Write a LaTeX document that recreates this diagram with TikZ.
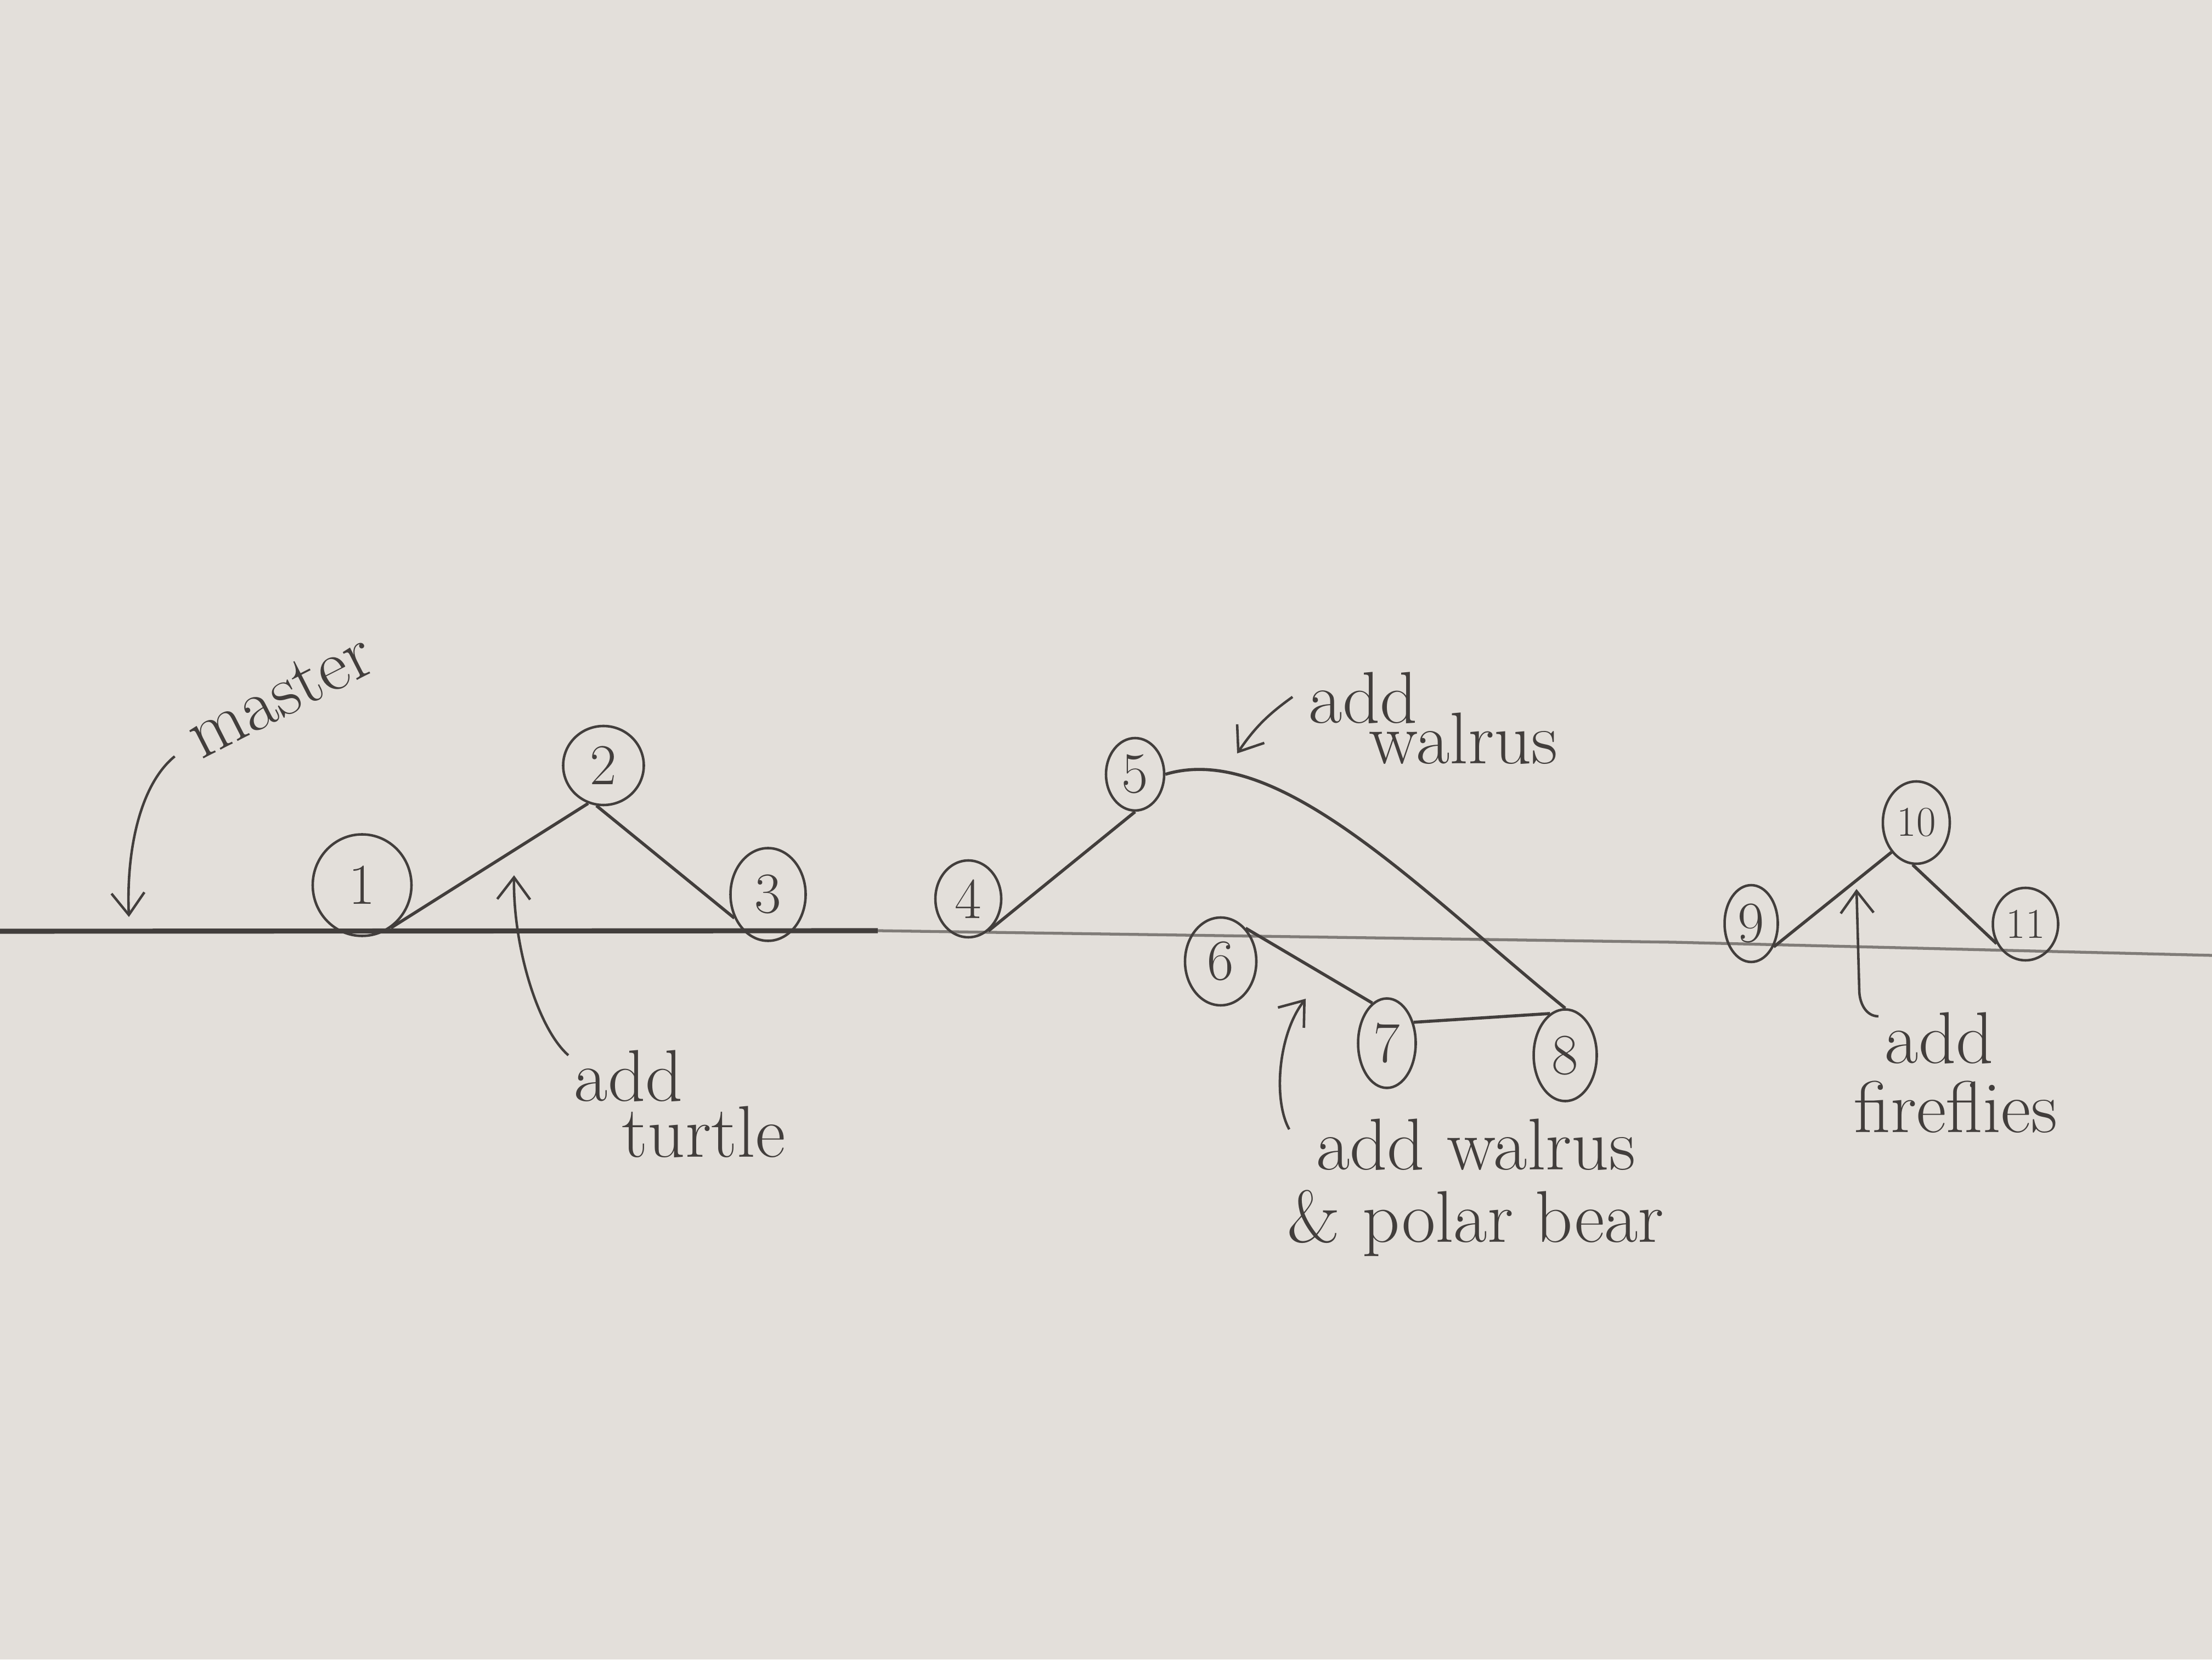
\documentclass[tikz,border=0pt]{standalone}
\usepackage{fontspec}
\usetikzlibrary{arrows.meta,
                  calc,
                  shapes.geometric,
                  positioning}
\definecolor{pencil}{RGB}{66,62,60}
\definecolor{faint}{RGB}{128,124,120}
\definecolor{paper}{RGB}{227,223,218}
\newcommand{\tightlines}{\lineskiplimit=-50pt\relax}

\begin{document}
\begin{tikzpicture}[auto, every node/.style={text=pencil}]
    \tikzset{
    commit/.style={draw=pencil, shape=ellipse, line width=1.3pt, inner sep=0pt, minimum width=1.2cm, minimum height=1.5cm, font=\fontsize{30}{30}\selectfont},
    bigcommit/.style={commit, font=\fontsize{22}{22}\selectfont},
    note/.style={inner sep=0pt, font=\fontsize{38}{40}\selectfont},
    line/.style={draw=pencil, line width=1.6pt},
    pointer/.style={draw=pencil, line width=1.3pt, -{Straight Barb[length=4mm,width=6mm]}},
    trunk/.style={draw=pencil, line width=2.6pt},
    trunkfaint/.style={draw=faint, line width=1.5pt}
}
\useasboundingbox (0,0) rectangle (40.32,30.24);
\fill [paper] (0,0) rectangle (40.32,30.24);

% master line
\path [trunk] (0,13.27) -- (16.0,13.28);
\path [trunkfaint] (16.0,13.28) -- (30.5,13.07) -- (40.32,12.83);

\node [commit, minimum width=1.8cm, minimum height=1.85cm] (c1) at (6.60,14.11) {1};
\node [commit, minimum width=1.47cm, minimum height=1.44cm] (c2) at (11.00,16.29) {2};
\node [commit, minimum width=1.37cm, minimum height=1.69cm] (c3) at (14.00,13.94) {3};
\node [commit, minimum width=1.2cm, minimum height=1.4cm] (c4) at (17.65,13.86) {4};
\node [commit, minimum width=1.06cm, minimum height=1.32cm] (c5) at (20.69,16.13) {5};
\node [commit, minimum width=1.3cm, minimum height=1.6cm] (c6) at (22.25,12.72) {6};
\node [commit, minimum width=1.05cm, minimum height=1.63cm] (c7) at (25.28,11.23) {7};
\node [commit, minimum width=1.15cm, minimum height=1.67cm] (c8) at (28.53,11.01) {8};
\node [commit, minimum width=0.97cm, minimum height=1.4cm] (c9) at (31.92,13.41) {9};
\node [bigcommit, minimum width=1.22cm, minimum height=1.5cm] (c10) at (34.93,15.25) {10};
\node [bigcommit, minimum width=1.19cm, minimum height=1.32cm] (c11) at (36.92,13.40) {11};

\node [note, rotate=27] (master) at (5.10,17.58) {master};
\node [note, align=left, anchor=north west, font=\fontsize{38}{29}\selectfont] (addturtle) at (10.46,11.11) {add\\\hspace{0.87cm}turtle};
\node [note, align=left, anchor=north west, font={\fontsize{38}{21}\selectfont\tightlines}] (addwalrus) at (23.85,18.0) {add\\\hspace{1.1cm}walrus};
\node [note, align=center, anchor=north, font=\fontsize{38}{37.5}\selectfont] (addpolar) at (26.9,9.86) {add walrus\\\& polar bear};
\node [note, align=left, anchor=north west, font=\fontsize{38}{36}\selectfont] (addfireflies) at (33.79,11.80) {\hspace{0.56cm}add\\fireflies};

\coordinate (mastertip) at (2.35,13.53);
\coordinate (turtletip) at (9.37,14.29);
\coordinate (walrustip) at (22.55,16.51);
\coordinate (polartip) at (23.80,12.04);
\coordinate (fireflytip) at (33.84,14.04);

\path [line] (c1.-56) -- (c2.-112);
\path [line] (c2.-100) -- (c3.-145);
\path [line] (c4.-58) -- (c5.south);
\path [line] (c5.east) .. controls (23.3,16.75) and (25.9,14.0) .. (c8.north);
\path [line] (c6.53) -- (c7.110);
\path [line] (c7.38) -- (c8.110);
\path [line] (c9.-46) -- (c10.-130);
\path [line] (c10.-95) -- (c11.-146);

\path [pointer] ($(master.west)+(-0.3,-0.3)$) .. controls (2.55,15.94) and (2.3,14.74) .. (mastertip);
\path [pointer] ($(addturtle.north west)+(-0.1,-0.1)$) .. controls (9.8,11.5) and (9.35,13.0) .. (turtletip);
\path [pointer] ($(addwalrus.north west)+(-0.29,-0.46)$) to[bend right=10] (walrustip);
\path [pointer] ($(addpolar.north)+(-3.4,-0.2)$) .. controls (23.2,10.2) and (23.3,11.4) .. (polartip);
\path [pointer] ($(addfireflies.north west)+(0.45,-0.08)$) to[out=180,in=-90] (33.89,12.2) -- (fireflytip);

\end{tikzpicture}
\end{document}
